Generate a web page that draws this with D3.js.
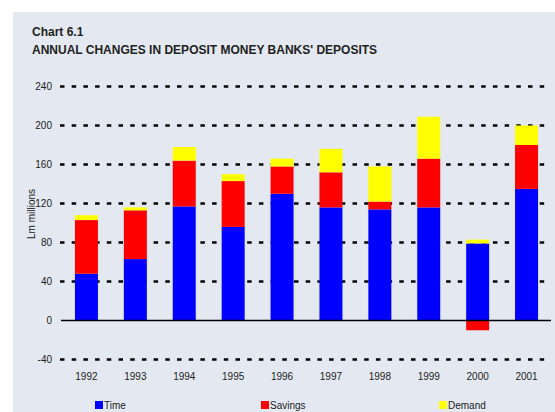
<!DOCTYPE html>
<html>
<head>
<meta charset="utf-8">
<script src="https://cdn.jsdelivr.net/npm/d3@7"></script>
<style>
  body { margin: 0; background: #fff; }
  text { font-family: "Liberation Sans", Arial, sans-serif; fill: #222; }
</style>
</head>
<body>
<div id="chart"></div>
<script>
// chart data (Lm millions)
const years = ["1992", "1993", "1994", "1995", "1996", "1997", "1998", "1999", "2000", "2001"];
const time = [48, 63, 117, 96, 130, 116, 114, 116, 79, 135];
const savings = [55, 50, 47, 47, 28, 36, 8, 50, -10, 45];
const demand = [5, 3, 14, 7, 8, 24, 36, 43, 4, 20];
const yTicks = [-40, 0, 40, 80, 120, 160, 200, 240];
const seriesNames = ["Time", "Savings", "Demand"];
const colors = ["#0000ff", "#ff0000", "#ffff00"];

const W = 555, H = 412;

const svg = d3.select("#chart").append("svg")
  .attr("width", W)
  .attr("height", H);

// panel background
svg.append("rect")
  .attr("x", 13).attr("y", 12)
  .attr("width", W - 13).attr("height", H - 12)
  .attr("fill", "#e4e9f1");

svg.append("text")
  .attr("x", 32).attr("y", 36)
  .attr("font-size", 12).attr("font-weight", "bold")
  .text("Chart 6.1");
svg.append("text")
  .attr("x", 32).attr("y", 54)
  .attr("font-size", 12).attr("font-weight", "bold")
  .text("ANNUAL CHANGES IN DEPOSIT MONEY BANKS' DEPOSITS");

const x = d3.scaleBand().domain(years).range([62, 551]).paddingInner(0.53).paddingOuter(0.265);
const y = d3.scaleLinear().domain([-40, 240]).range([359.5, 86.5]);

// gridlines
svg.append("g")
  .selectAll("line")
  .data(yTicks.filter(d => d !== 0))
  .join("line")
  .attr("x1", 60).attr("x2", 551)
  .attr("y1", d => y(d)).attr("y2", d => y(d))
  .attr("stroke", "#000")
  .attr("stroke-width", 2.6)
  .attr("stroke-dasharray", "4.5,7.2");

// y tick labels
svg.append("g")
  .selectAll("text")
  .data(yTicks)
  .join("text")
  .attr("x", 52)
  .attr("y", d => y(d) + 3.5)
  .attr("text-anchor", "end")
  .attr("font-size", 10)
  .text(d => d);

svg.append("text")
  .attr("transform", "translate(35,214) rotate(-90)")
  .attr("text-anchor", "middle")
  .attr("font-size", 10)
  .text("Lm millions");

// stacked bars, negatives stacked below zero
const rows = years.map((yr, i) => ({ year: yr, Time: time[i], Savings: savings[i], Demand: demand[i] }));
const stack = d3.stack().keys(seriesNames).offset(d3.stackOffsetDiverging);
const layers = stack(rows);

svg.append("g")
  .selectAll("g")
  .data(layers)
  .join("g")
  .attr("fill", (d, i) => colors[i])
  .selectAll("rect")
  .data(d => d)
  .join("rect")
  .attr("x", d => x(d.data.year))
  .attr("width", x.bandwidth())
  .attr("y", d => y(Math.max(d[0], d[1])))
  .attr("height", d => Math.abs(y(d[0]) - y(d[1])));

// zero line
svg.append("line")
  .attr("x1", 61).attr("x2", 551)
  .attr("y1", y(0)).attr("y2", y(0))
  .attr("stroke", "#000")
  .attr("stroke-width", 1.5);

// year labels
svg.append("g")
  .selectAll("text")
  .data(years)
  .join("text")
  .attr("x", d => x(d) + x.bandwidth() / 2)
  .attr("y", 380)
  .attr("text-anchor", "middle")
  .attr("font-size", 10)
  .text(d => d);

// legend
const legendX = [95, 261, 439];
const legend = svg.append("g")
  .selectAll("g")
  .data(seriesNames)
  .join("g")
  .attr("transform", (d, i) => "translate(" + legendX[i] + ",401)");
legend.append("rect")
  .attr("width", 8).attr("height", 8)
  .attr("fill", (d, i) => colors[i]);
legend.append("text")
  .attr("x", 9).attr("y", 8)
  .attr("font-size", 10)
  .text(d => d);
</script>
</body>
</html>
